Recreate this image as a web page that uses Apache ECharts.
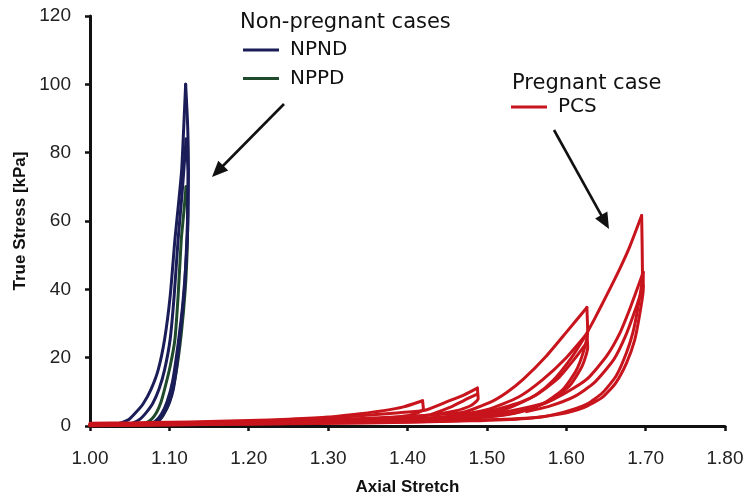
<!DOCTYPE html>
<html>
<head>
<meta charset="utf-8">
<title>True Stress vs Axial Stretch</title>
<script src="https://cdn.jsdelivr.net/npm/echarts@6/dist/echarts.min.js"></script>
<style>
  html, body { margin: 0; padding: 0; background: #ffffff; }
  #chart { width: 748px; height: 501px; }
</style>
</head>
<body>
<div id="chart"></div>
<script>
// Axis ticks
const stretchTicks = [1.00, 1.10, 1.20, 1.30, 1.40, 1.50, 1.60, 1.70, 1.80];
const stressTicks = [0, 20, 40, 60, 80, 100, 120];

// Non-pregnant, non-pregnant-delivered (NPND): [stretch, stress kPa]
const npndLoad1 = [[1.028,0.3],[1.040,1.0],[1.049,1.9],[1.058,4.0],[1.067,6.5],[1.077,10.8],[1.086,16.5],[1.094,25.4],[1.101,38.0],[1.107,54.6],[1.1115,65.0],[1.1155,75.0],[1.118,87.0],[1.1205,100.0]];
const npndUnload1 = [[1.1205,100.0],[1.123,88.0],[1.124,75.0],[1.1235,65.0],[1.122,54.6],[1.119,40.0],[1.113,25.4],[1.109,17.0],[1.105,10.8],[1.100,6.8],[1.094,4.0],[1.089,2.2],[1.084,1.0],[1.075,0.3]];
const npndLoad2 = [[1.043,0.3],[1.055,1.0],[1.063,2.0],[1.071,4.0],[1.079,6.6],[1.087,10.8],[1.094,16.5],[1.101,25.4],[1.106,38.0],[1.111,54.6],[1.116,68.0],[1.121,84.0]];
const npndUnload2 = [[1.121,84.0],[1.1235,74.0],[1.1235,62.0],[1.1215,50.0],[1.117,36.0],[1.111,24.0],[1.104,13.0],[1.097,7.0],[1.090,3.5],[1.082,1.3],[1.072,0.3]];

// Non-pregnant, previously-delivered (NPPD)
const nppdLoad1 = [[1.060,0.3],[1.071,1.0],[1.078,2.1],[1.084,4.0],[1.089,6.7],[1.094,10.8],[1.101,17.5],[1.107,25.4],[1.111,38.0],[1.115,54.6],[1.118,62.0],[1.121,70.0]];
const nppdUnload1 = [[1.121,70.0],[1.123,62.0],[1.1225,52.0],[1.120,40.0],[1.115,27.0],[1.108,15.0],[1.100,7.0],[1.092,3.0],[1.085,1.2],[1.078,0.3]];

// Pregnant cervical stroma (PCS) cycles
const pcsLoadA = [[1.000,0.8],[1.050,0.9],[1.100,1.1],[1.150,1.3],[1.200,1.6],[1.250,2.0],[1.300,2.6],[1.340,3.6],[1.370,4.5],[1.395,5.6],[1.419,7.4]];
const pcsUnloadA = [[1.419,7.4],[1.420,5.0],[1.410,3.6],[1.390,2.7],[1.350,1.9],[1.300,1.4],[1.200,0.9],[1.100,0.6],[1.000,0.4]];
const pcsLoadB = [[1.000,0.6],[1.100,0.9],[1.200,1.3],[1.280,2.0],[1.340,3.0],[1.390,3.9],[1.422,4.6],[1.453,7.4],[1.472,9.2],[1.488,11.1]];
const pcsUnloadB = [[1.488,11.1],[1.489,8.0],[1.480,6.0],[1.460,4.4],[1.430,3.3],[1.400,2.6],[1.350,2.0],[1.300,1.5],[1.200,1.0],[1.100,0.6],[1.000,0.3]];
const pcsLoadB2 = [[1.430,3.4],[1.455,5.6],[1.472,7.6],[1.488,9.3]];
const pcsLoadC = [[1.000,0.5],[1.200,1.2],[1.300,1.8],[1.400,2.8],[1.440,3.4],[1.470,4.0],[1.504,6.9],[1.525,9.8],[1.546,13.7],[1.575,20.5],[1.600,27.4],[1.626,34.7]];
const pcsUnloadC = [[1.626,34.7],[1.627,27.5],[1.622,22.0],[1.612,16.0],[1.595,10.5],[1.570,6.5],[1.540,4.0],[1.500,2.6],[1.450,2.0],[1.350,1.3],[1.200,0.8],[1.000,0.2]];
const pcsLoadC2 = [[1.450,2.8],[1.500,4.8],[1.540,8.5],[1.570,13.5],[1.600,20.0],[1.626,27.0]];
const pcsUnloadC2 = [[1.626,27.0],[1.627,23.0],[1.620,17.5],[1.605,12.0],[1.585,8.0],[1.555,5.0],[1.520,3.2],[1.470,2.2]];
const pcsLoadC3 = [[1.470,2.6],[1.520,4.6],[1.560,8.8],[1.590,14.0],[1.610,19.5],[1.626,24.5]];
const pcsLoadD = [[1.000,0.4],[1.300,1.3],[1.400,2.0],[1.450,2.8],[1.500,4.2],[1.542,6.9],[1.563,9.3],[1.583,13.2],[1.605,19.5],[1.623,26.0],[1.636,31.5],[1.651,38.3],[1.668,46.3],[1.680,52.5],[1.695,61.6]];
const pcsUnloadD = [[1.695,61.6],[1.696,45.0],[1.695,41.5],[1.690,34.2],[1.684,27.4],[1.676,21.5],[1.663,14.7],[1.646,9.8],[1.626,6.4],[1.596,4.0],[1.563,2.5],[1.500,1.8],[1.400,1.2],[1.200,0.6],[1.000,0.1]];
const pcsLoadE = [[1.000,0.3],[1.200,0.9],[1.350,1.5],[1.450,2.3],[1.500,3.2],[1.542,5.0],[1.575,6.9],[1.600,9.8],[1.626,13.7],[1.651,20.5],[1.668,27.4],[1.680,34.2],[1.686,38.0],[1.697,45.0]];
const pcsUnloadE = [[1.697,45.0],[1.697,40.0],[1.692,32.0],[1.686,25.0],[1.676,18.5],[1.662,12.5],[1.645,8.3],[1.622,5.4],[1.590,3.4],[1.550,2.2],[1.480,1.5],[1.350,0.9],[1.000,0.1]];
const pcsLoadE2 = [[1.550,4.2],[1.580,5.9],[1.610,8.6],[1.635,12.6],[1.660,19.5],[1.675,26.5],[1.687,34.0],[1.697,41.0]];

const NAVY = '#1a1d58';
const GREEN = '#1f4a2c';
const RED = '#c8141c';

function branch(name, data, color) {
  return {
    name: name,
    type: 'line',
    data: data,
    smooth: 0.2,
    showSymbol: false,
    symbol: 'none',
    lineStyle: { color: color, width: 3, cap: 'round', join: 'round' },
    itemStyle: { color: color },
    emphasis: { disabled: true },
    silent: true,
    animation: false
  };
}

const series = [
  branch('NPPD', nppdLoad1, GREEN),
  branch('NPPD', nppdUnload1, GREEN),
  branch('NPND', npndLoad1, NAVY),
  branch('NPND', npndUnload1, NAVY),
  branch('NPND', npndLoad2, NAVY),
  branch('NPND', npndUnload2, NAVY),
  branch('PCS', pcsLoadA, RED),
  branch('PCS', pcsUnloadA, RED),
  branch('PCS', pcsLoadB, RED),
  branch('PCS', pcsUnloadB, RED),
  branch('PCS', pcsLoadB2, RED),
  branch('PCS', pcsLoadC, RED),
  branch('PCS', pcsUnloadC, RED),
  branch('PCS', pcsLoadC2, RED),
  branch('PCS', pcsUnloadC2, RED),
  branch('PCS', pcsLoadC3, RED),
  branch('PCS', pcsLoadD, RED),
  branch('PCS', pcsUnloadD, RED),
  branch('PCS', pcsLoadE, RED),
  branch('PCS', pcsUnloadE, RED),
  branch('PCS', pcsLoadE2, RED)
];

// Arrow annotations: straight shaft with a filled head at the tip
function arrow(x1, y1, x2, y2) {
  const dx = x2 - x1, dy = y2 - y1;
  const len = Math.sqrt(dx * dx + dy * dy);
  const ux = dx / len, uy = dy / len;
  const headLen = 16, headHalf = 7;
  const bx = x2 - ux * headLen, by = y2 - uy * headLen;
  return [
    { type: 'line', shape: { x1: x1, y1: y1, x2: bx + ux * 2, y2: by + uy * 2 },
      style: { stroke: '#111', lineWidth: 2.6 }, silent: true },
    { type: 'polygon', shape: { points: [[x2, y2], [bx - uy * headHalf, by + ux * headHalf], [bx + uy * headHalf, by - ux * headHalf]] },
      style: { fill: '#111' }, silent: true }
  ];
}

const legendFont = 'DejaVu Sans';
const tickFont = 'Liberation Sans';

const chart = echarts.init(document.getElementById('chart'), null, { renderer: 'canvas' });
chart.setOption({
  backgroundColor: '#ffffff',
  animation: false,
  grid: { left: 90, right: 23, top: 16, bottom: 74, containLabel: false },
  xAxis: {
    type: 'value',
    min: stretchTicks[0],
    max: stretchTicks[stretchTicks.length - 1],
    interval: 0.1,
    name: 'Axial Stretch',
    nameLocation: 'middle',
    nameGap: 53,
    nameTextStyle: { fontFamily: tickFont, fontWeight: 'bold', fontSize: 17, color: '#111' },
    axisLine: { show: true, lineStyle: { color: '#111', width: 3 } },
    axisTick: { show: true, inside: false, length: 5, lineStyle: { color: '#111', width: 2.5 } },
    axisLabel: { fontFamily: tickFont, fontSize: 19, color: '#222', margin: 23,
      formatter: v => v.toFixed(2) },
    splitLine: { show: false }
  },
  yAxis: {
    type: 'value',
    min: stressTicks[0],
    max: stressTicks[stressTicks.length - 1],
    interval: 20,
    name: 'True Stress [kPa]',
    nameLocation: 'middle',
    nameGap: 55,
    nameTextStyle: { fontFamily: tickFont, fontWeight: 'bold', fontSize: 17, color: '#111' },
    axisLine: { show: true, lineStyle: { color: '#111', width: 3 } },
    axisTick: { show: true, inside: false, length: 5, lineStyle: { color: '#111', width: 2.5 } },
    axisLabel: { fontFamily: tickFont, fontSize: 19, color: '#222', margin: 19 },
    splitLine: { show: false }
  },
  legend: [
    {
      data: ['NPND', 'NPPD'],
      orient: 'vertical',
      left: 243,
      top: 40,
      padding: 0,
      itemGap: 8.5,
      itemWidth: 36,
      itemHeight: 3,
      icon: 'rect',
      selectedMode: false,
      textStyle: { fontFamily: legendFont, fontSize: 20, lineHeight: 20, color: '#111', padding: [0, 0, 0, 6] }
    },
    {
      data: ['PCS'],
      orient: 'vertical',
      left: 511,
      top: 97,
      padding: 0,
      itemWidth: 36,
      itemHeight: 3,
      icon: 'rect',
      selectedMode: false,
      textStyle: { fontFamily: legendFont, fontSize: 20, lineHeight: 20, color: '#111', padding: [0, 0, 0, 6] }
    }
  ],
  graphic: [
    { type: 'text', left: 240, top: 12,
      style: { text: 'Non-pregnant cases', font: '21px "DejaVu Sans"', fill: '#111' }, silent: true },
    { type: 'text', left: 512, top: 73,
      style: { text: 'Pregnant case', font: '21px "DejaVu Sans"', fill: '#111' }, silent: true }
  ].concat(arrow(284, 104, 212, 177), arrow(554, 130, 609, 229)),
  series: series
});
</script>
</body>
</html>
